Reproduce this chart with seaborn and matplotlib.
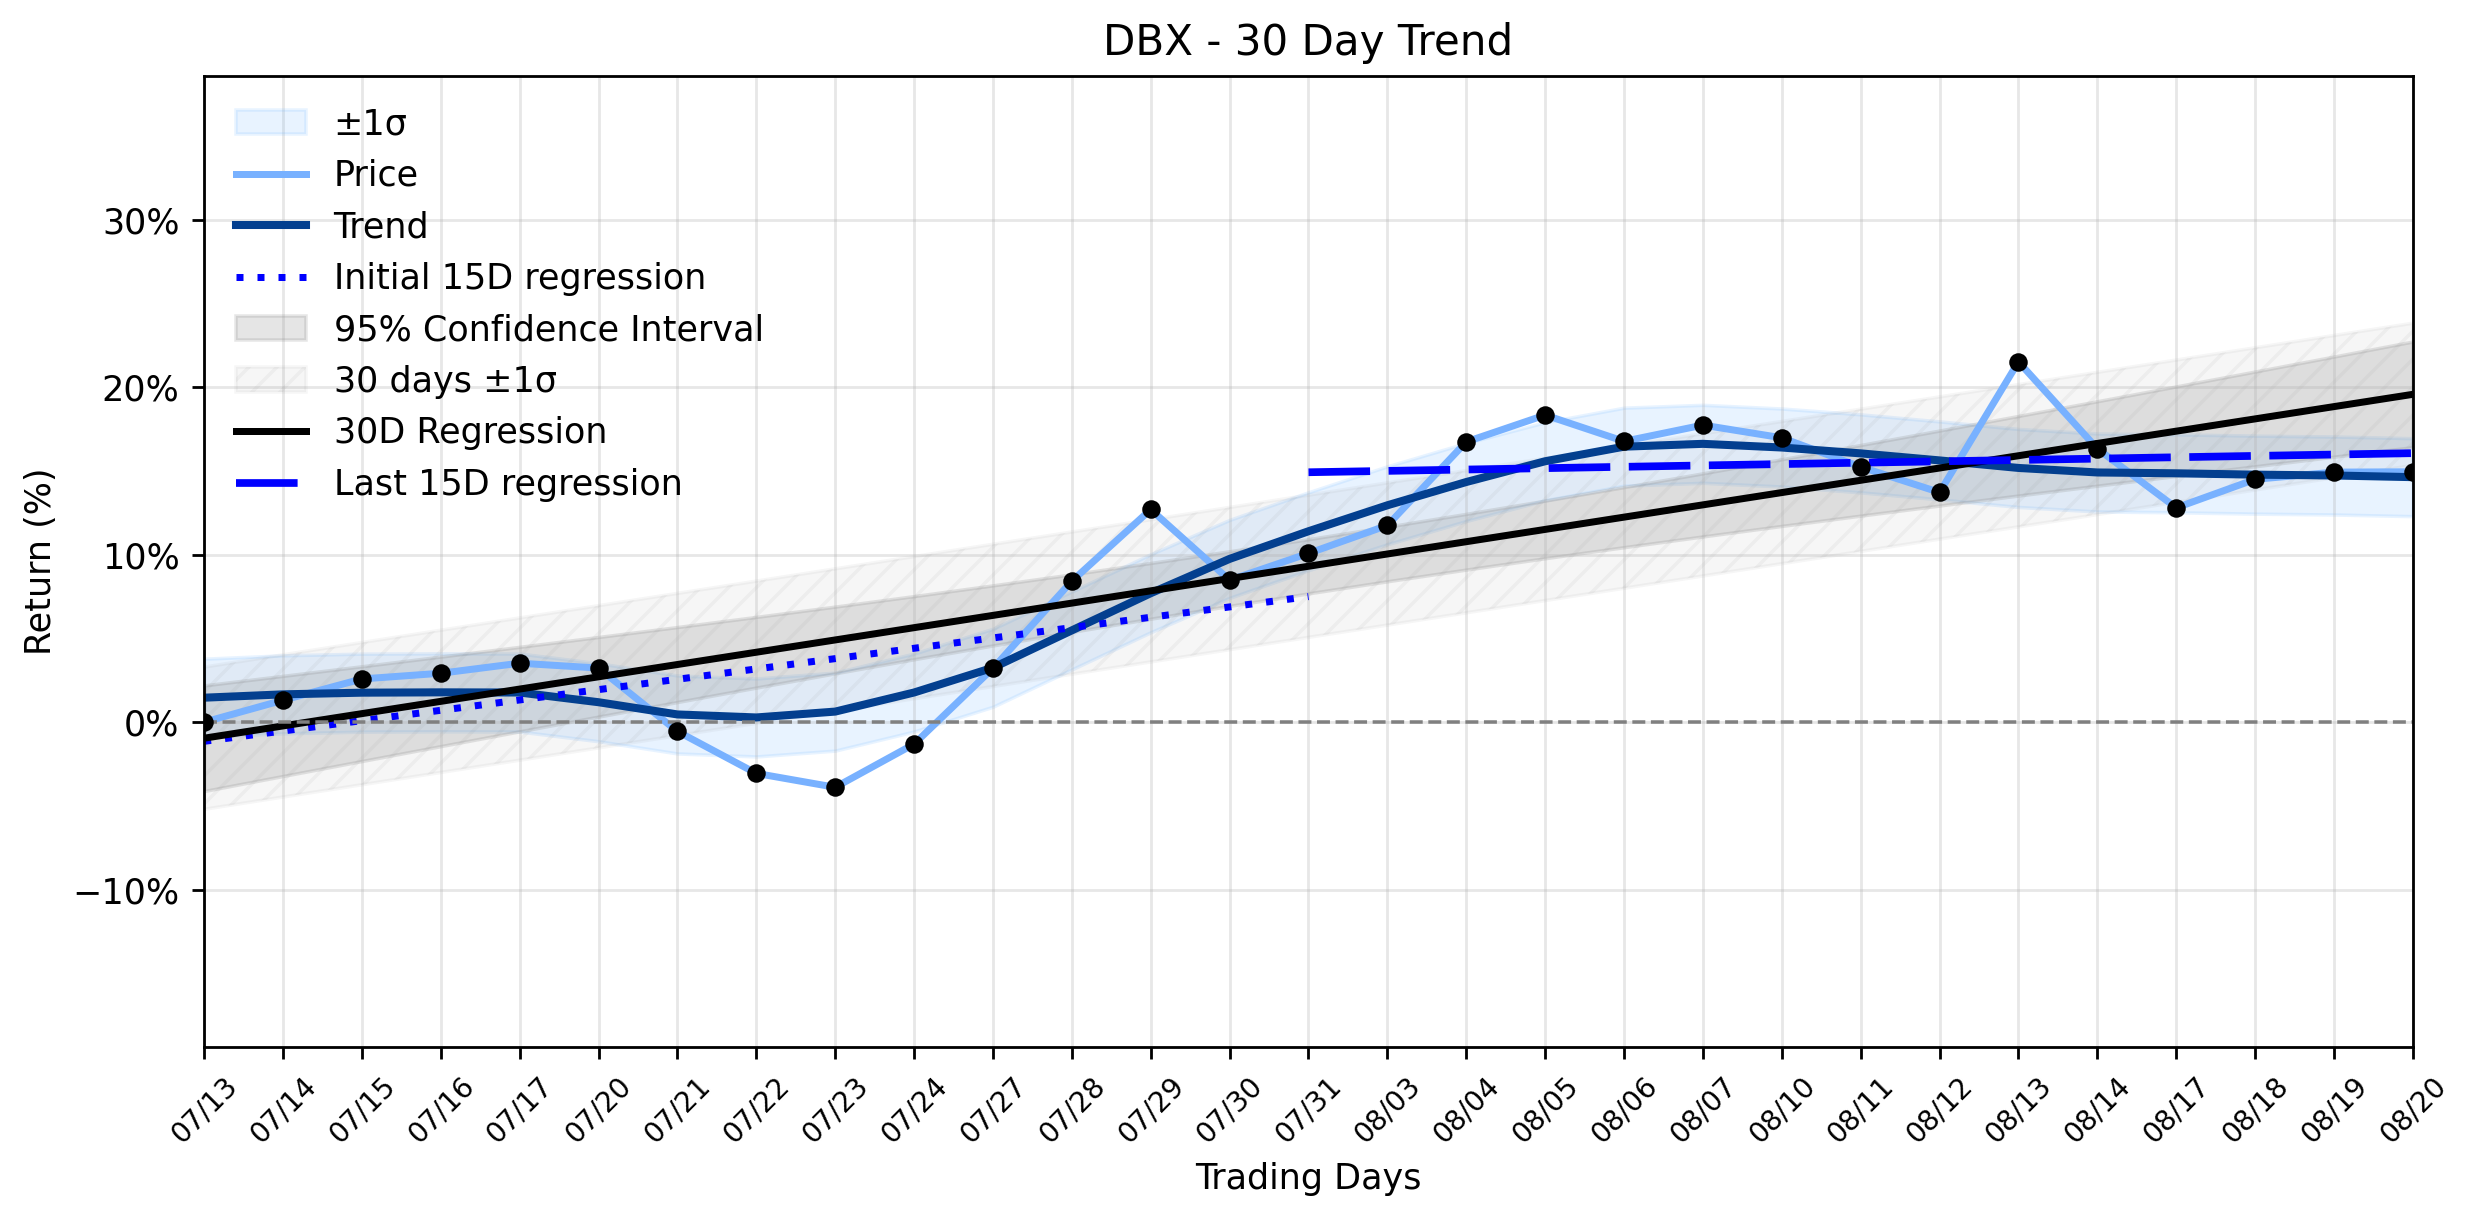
import numpy as np
import pandas as pd
import matplotlib
matplotlib.use('Agg')
import matplotlib.pyplot as plt
from matplotlib.ticker import PercentFormatter, MultipleLocator
import seaborn as sns

# trading days shown on the x axis
dates = ['07/13', '07/14', '07/15', '07/16', '07/17', '07/20', '07/21', '07/22',
         '07/23', '07/24', '07/27', '07/28', '07/29', '07/30', '07/31', '08/03',
         '08/04', '08/05', '08/06', '08/07', '08/10', '08/11', '08/12', '08/13',
         '08/14', '08/17', '08/18', '08/19', '08/20']

# cumulative return (%)
price = [0.0, 1.31, 2.58, 2.92, 3.52, 3.23, -0.55, -3.06, -3.89, -1.31, 3.22,
         8.42, 12.7, 8.48, 10.08, 11.75, 16.74, 18.34, 16.77, 17.74, 16.98,
         15.24, 13.72, 21.52, 16.33, 12.8, 14.5, 14.93, 14.95]

# smoothed trend line (%)
trend = [1.46, 1.66, 1.76, 1.78, 1.77, 1.19, 0.46, 0.28, 0.63, 1.77, 3.25,
         5.48, 7.7, 9.75, 11.4, 12.95, 14.34, 15.58, 16.45, 16.62, 16.4,
         16.05, 15.63, 15.18, 14.91, 14.86, 14.78, 14.73, 14.63]

trend_sigma = 2.33   # width of the light blue band
t_crit = 2.052       # t(0.975, 27)

days = np.arange(len(dates))
df = pd.DataFrame({'day': days, 'price': price, 'trend': trend})

# 30 day regression + confidence interval
slope, icpt = np.polyfit(df['day'], df['price'], 1)
reg = icpt + slope * days
resid = df['price'].values - reg
s = np.sqrt((resid ** 2).sum() / (len(days) - 2))
dx = days - days.mean()
ci = t_crit * s * np.sqrt(1 / len(days) + dx ** 2 / (dx ** 2).sum())

# first / last 15 day regressions
first = df.iloc[:15]
last = df.iloc[14:]
f_fit = np.polyval(np.polyfit(first['day'], first['price'], 1), first['day'])
l_fit = np.polyval(np.polyfit(last['day'], last['price'], 1), last['day'])

DPI = 252
fig, ax = plt.subplots(figsize=(2474 / DPI, 1224 / DPI), dpi=DPI)
fig.subplots_adjust(left=0.0825, right=0.9753, bottom=0.1446, top=0.9381)

tr = df['trend'].values
ax.fill_between(days, tr - trend_sigma, tr + trend_sigma, color='#66b3ff', alpha=0.15, label='±1σ')
sns.lineplot(data=df, x='day', y='price', color='#78b1ff', lw=2, errorbar=None, label='Price', ax=ax)
sns.lineplot(data=df, x='day', y='trend', color='#033f8f', lw=2.3, errorbar=None, label='Trend', ax=ax)
sns.lineplot(x=first['day'], y=f_fit, color='blue', lw=2, linestyle=(0, (1, 2)),
             errorbar=None, label='Initial 15D regression', ax=ax)
ax.fill_between(days, reg - ci, reg + ci, color='gray', alpha=0.2, label='95% Confidence Interval')
ax.fill_between(days, reg - s, reg + s, color='gray', alpha=0.07, hatch='///', label='30 days ±1σ')
sns.lineplot(x=days, y=reg, color='black', lw=2, errorbar=None, label='30D Regression', ax=ax)
sns.lineplot(x=last['day'], y=l_fit, color='blue', lw=2.2, linestyle=(0, (8, 2.4)),
             errorbar=None, label='Last 15D regression', ax=ax)
sns.scatterplot(data=df, x='day', y='price', color='black', s=28, linewidth=0,
                zorder=5, legend=False, ax=ax)
ax.axhline(0, color='gray', linestyle='--', lw=1)

ax.set_xlim(0, len(dates) - 1)
ax.set_ylim(-19.4, 38.6)
ax.set_xticks(days)
ax.set_xticklabels(dates, rotation=45, fontsize=8)
ax.yaxis.set_major_locator(MultipleLocator(10))
ax.yaxis.set_major_formatter(PercentFormatter(decimals=0))
ax.grid(True, alpha=0.3)
ax.set_xlabel('Trading Days')
ax.set_ylabel('Return (%)')
ax.set_title('DBX - 30 Day Trend', fontsize=12)
ax.legend(loc='upper left', frameon=False, fontsize=10)

fig.savefig('out.png', dpi=DPI)
